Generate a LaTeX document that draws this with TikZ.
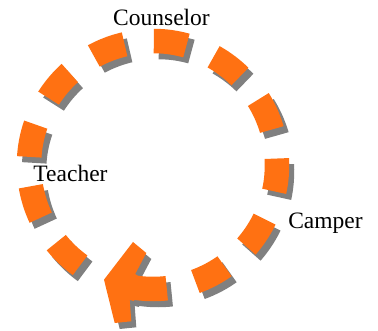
\documentclass[tikz,border=0pt]{standalone}
\usepackage{fontspec}
\setmainfont{Liberation Serif}
\definecolor{arancio}{RGB}{255,113,18}
\definecolor{grigio}{RGB}{128,128,128}

\begin{document}
\begin{tikzpicture}[
        % Stili globali
        x=1pt, y=1pt,              % Unità in punti, come i pixel dell'immagine
        every node/.style={font=\fontsize{23.5}{28}\selectfont, anchor=base}, % Testo con font serif
        % Stili del ciclo
        ciclo/.style={line width=24.5pt, dash pattern=on 33pt off 29.5pt}, % Anello tratteggiato
        ombra/.style={transform canvas={shift={(5pt,-6pt)}}, color=grigio} % Ombra grigia spostata
    ]

    \useasboundingbox (0,0) rectangle (378,331);
    \coordinate (centro) at (153,166);

    % Ombra
    \begin{scope}[ombra]
        \draw[ciclo] (centro) ++(234:124pt) arc[start angle=234, end angle=-105, radius=124pt];
        \fill (104,51.3) -- (133,89) -- (146.3,78) -- (135.2,57) -- (138,55) -- (134,30)
            -- (129.7,31) -- (131.3,9.7) -- (114.7,8) -- cycle;
    \end{scope}

    % Anello arancione con la punta
    \begin{scope}[color=arancio]
        \draw[ciclo] (centro) ++(234:124pt) arc[start angle=234, end angle=-105, radius=124pt];
        \fill (104,51.3) -- (133,89) -- (146.3,78) -- (135.2,57) -- (138,55) -- (134,30)
            -- (129.7,31) -- (131.3,9.7) -- (114.7,8) -- cycle;
    \end{scope}

    \node (counselor) at (161.5,305) {Counselor};
    \node (teacher) at (70.5,149.3) {Teacher};
    \node (camper) at (325.5,102) {Camper};
\end{tikzpicture}
\end{document}
